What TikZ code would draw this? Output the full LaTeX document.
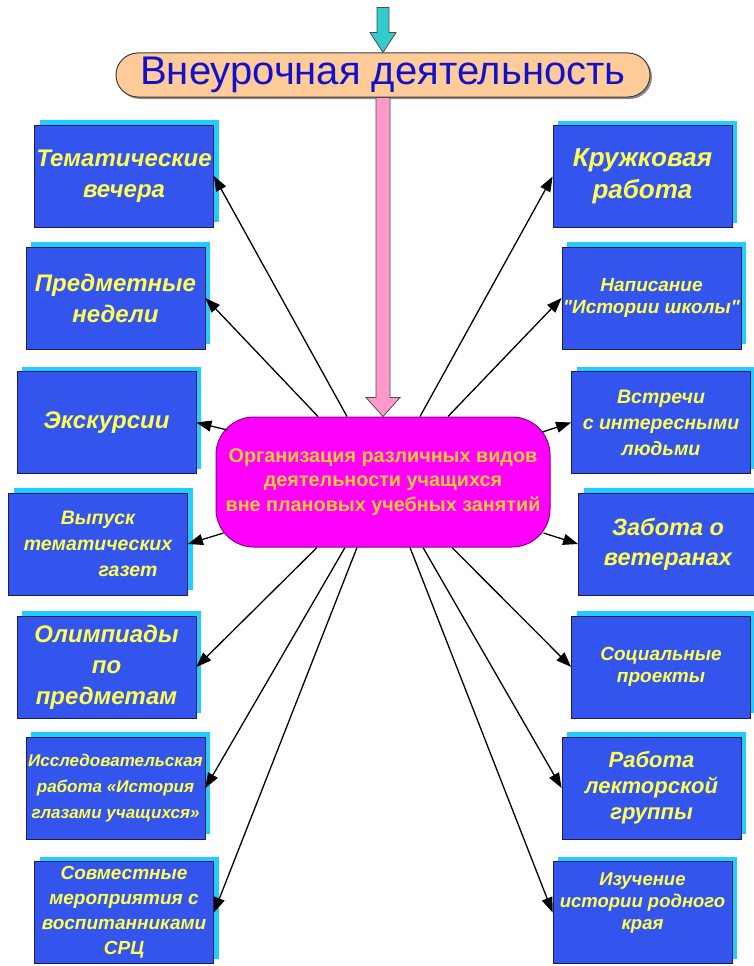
\documentclass[tikz,border=0pt]{standalone}
\usepackage{fontspec}
\setmainfont{Liberation Sans}[Ligatures=TeXOff]
\usetikzlibrary{arrows.meta,shadows,calc}

\definecolor{boxblue}{HTML}{3355EE}
\definecolor{boxline}{HTML}{1A1A5E}
\definecolor{shcyan}{HTML}{22CCFF}
\definecolor{txtyellow}{HTML}{FFFF55}
\definecolor{peach}{HTML}{FFCC99}
\definecolor{centmag}{HTML}{FF00FF}
\definecolor{centline}{HTML}{880088}
\definecolor{centtxt}{HTML}{FFCC33}
\definecolor{topblue}{HTML}{1111CC}
\definecolor{arrcyan}{HTML}{33CCCC}
\definecolor{arrpink}{HTML}{FF99CC}

\begin{document}
\begin{tikzpicture}[x=1pt,y=-1pt,
  actbox/.style={draw=boxline, line width=0.8pt, fill=boxblue,
    minimum width=179pt, minimum height=102pt, inner sep=1pt,
    align=center, text=txtyellow,
    drop shadow={shadow xshift=5pt, shadow yshift=5pt, fill=shcyan, opacity=1}},
  bigtxt/.style={font=\bfseries\itshape\fontsize{24}{31}\selectfont},
  midtxt/.style={font=\bfseries\itshape\fontsize{19.5}{26}\selectfont},
  smalltxt/.style={font=\bfseries\itshape\fontsize{19}{22}\selectfont},
  link/.style={draw=black, line width=1.3pt, -{Triangle[length=15pt,width=11pt]}},
  blockarrow/.style={draw=black!70, line width=0.8pt},
]
\fill[white] (0,0) rectangle (754,966);
\useasboundingbox (0,0) rectangle (754,966);

% top pill
\node[draw=black!75, line width=1pt, fill=peach, rounded corners=22pt,
  minimum width=534pt, minimum height=44pt, inner sep=0pt,
  drop shadow={shadow xshift=2pt, shadow yshift=-2pt, fill=black!45, opacity=1},
  text=topblue, font=\fontsize{40}{42}\selectfont] (top) at (383,75) {Внеурочная деятельность};

% centre node
\node[draw=centline, line width=1pt, fill=centmag, rounded corners=38pt,
  minimum width=334pt, minimum height=130pt, align=center, text=centtxt,
  font=\bfseries\fontsize{19.8}{24.5}\selectfont] (c) at (383,482)
  {Организация различных видов\\деятельности учащихся\\вне плановых учебных занятий};

% cyan arrow into the top pill
\draw[blockarrow, fill=arrcyan] ($(top.north)+(-6,-45)$) -- ($(top.north)+(6,-45)$)
  -- ($(top.north)+(6,-20)$) -- ($(top.north)+(13,-20)$) -- (top.north)
  -- ($(top.north)+(-13,-20)$) -- ($(top.north)+(-6,-20)$) -- cycle;

% pink arrow from the pill to the centre
\draw[blockarrow, fill=arrpink] ($(top.south)+(-7,0)$) -- ($(top.south)+(7,0)$)
  -- ($(c.north)+(7,-19)$) -- ($(c.north)+(17,-19)$) -- (c.north)
  -- ($(c.north)+(-17,-19)$) -- ($(c.north)+(-7,-19)$) -- cycle;

% left boxes
\node[actbox, bigtxt] (L1) at (124,176) {Тематические\\вечера};
\node[actbox, bigtxt] (L2) at (115.5,298) {Предметные\\недели};
\node[actbox, bigtxt] (L3) at (106.5,422.5) {Экскурсии};
\node[actbox, midtxt] (L4) at (98,544) {Выпуск\\тематических\\\hspace*{60pt}газет};
\node[actbox, bigtxt] (L5) at (106.5,667) {Олимпиады\\по\\предметам};
\node[actbox, font=\bfseries\itshape\fontsize{17}{26}\selectfont] (L6) at (115.5,788) {Исследовательская\\работа «История\\глазами учащихся»};
\node[actbox, font=\bfseries\itshape\fontsize{19}{25}\selectfont] (L7) at (124,912.5) {Совместные\\мероприятия с\\воспитанниками\\СРЦ};

% right boxes
\node[actbox, font=\bfseries\itshape\fontsize{26}{32}\selectfont] (R1) at (642.5,176.5) {Кружковая\\работа};
\node[actbox, smalltxt] (R2) at (651.5,298) {Написание\\"Истории школы"};
\node[actbox, midtxt] (R3) at (661,422.5) {Встречи\\с интересными\\людьми};
\node[actbox, font=\bfseries\itshape\fontsize{23.5}{30}\selectfont] (R4) at (668,544) {Забота о\\ветеранах};
\node[actbox, smalltxt] (R5) at (661,667) {Социальные\\проекты};
\node[actbox, font=\bfseries\itshape\fontsize{22}{26}\selectfont] (R6) at (651.5,788) {Работа\\лекторской\\группы};
\node[actbox, font=\bfseries\itshape\fontsize{18.5}{22}\selectfont] (R7) at (642.5,912.5) {Изучение\\истории родного\\края\\\mbox{}};

% connectors
\draw[link] ($(c.north)+(-36,0)$) -- (L1.east);
\draw[link] ($(c.north)+(-65,0)$) -- (L2.east);
\draw[link] ($(c.north)+(37,0)$) -- (R1.west);
\draw[link] ($(c.north)+(65,0)$) -- (R2.west);
\draw[link] ($(c.west)+(12,-52)$) -- (L3.east);
\draw[link] ($(c.west)+(8,51)$) -- (L4.east);
\draw[link] ($(c.east)+(-8,-50)$) -- (R3.west);
\draw[link] ($(c.east)+(-7,51)$) -- (R4.west);
\draw[link] ($(c.south)+(-66,0)$) -- (L5.east);
\draw[link] ($(c.south)+(-38,0)$) -- (L6.east);
\draw[link] ($(c.south)+(-26,0)$) -- (L7.east);
\draw[link] ($(c.south)+(27,0)$) -- (R7.west);
\draw[link] ($(c.south)+(40,0)$) -- (R6.west);
\draw[link] ($(c.south)+(69,0)$) -- (R5.west);
\end{tikzpicture}
\end{document}
